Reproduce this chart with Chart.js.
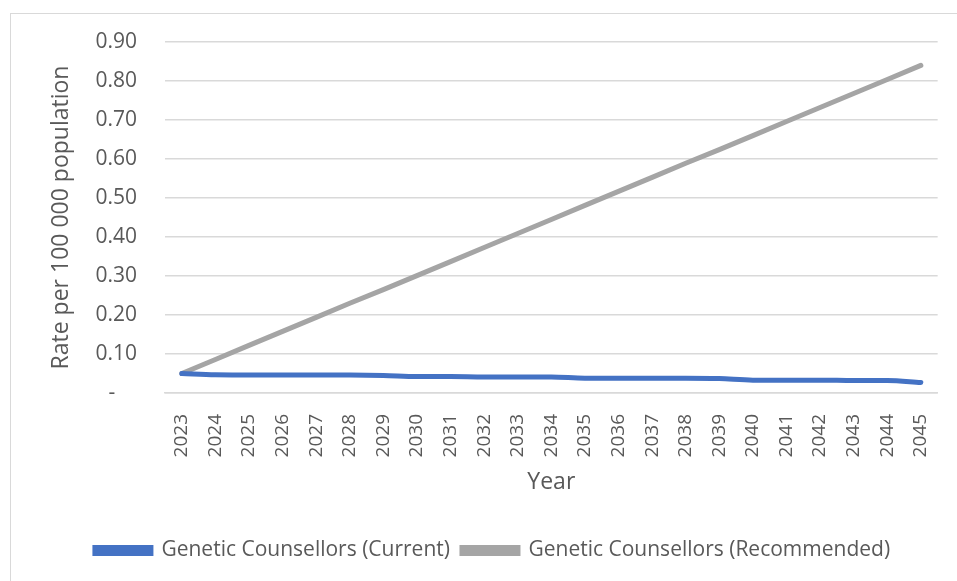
<!DOCTYPE html>
<html lang="en">
<head>
    <meta charset="UTF-8">
    <title>Genetic Counsellors rate</title>
    <script src="https://cdn.jsdelivr.net/npm/chart.js"></script>
    <style>
        body { margin: 0; background: #fff; }
        #wrap { position: relative; width: 957px; height: 581px; overflow: hidden; }
        #frame { position: absolute; left: 10px; top: 13px; width: 960px; height: 600px; border: 1px solid #d9d9d9; box-sizing: border-box; }
        canvas { position: absolute; left: 0; top: 0; }
    </style>
</head>
<body>
<div id="wrap">
    <div id="frame"></div>
    <canvas id="chart" width="957" height="581"></canvas>
</div>
<script>
    // data
    const years = ['2023', '2024', '2025', '2026', '2027', '2028', '2029', '2030', '2031', '2032', '2033', '2034',
                   '2035', '2036', '2037', '2038', '2039', '2040', '2041', '2042', '2043', '2044', '2045'];
    const currentRate = [0.050, 0.047, 0.046, 0.046, 0.046, 0.046, 0.045, 0.042, 0.042, 0.041, 0.041, 0.041,
                         0.038, 0.038, 0.038, 0.038, 0.037, 0.033, 0.033, 0.033, 0.032, 0.032, 0.027];
    const recommendedRate = [0.050, 0.086, 0.122, 0.158, 0.194, 0.230, 0.265, 0.301, 0.337, 0.373, 0.409, 0.445,
                             0.481, 0.517, 0.553, 0.589, 0.624, 0.660, 0.696, 0.732, 0.768, 0.804, 0.840];

    const font = 'Open Sans';
    const grey = '#595959';

    new Chart(document.getElementById('chart'), {
        type: 'line',
        data: {
            labels: years,
            datasets: [{
                label: 'Genetic Counsellors (Current)',
                data: currentRate,
                borderColor: '#4472C4',
                backgroundColor: '#4472C4',
                borderWidth: 5,
                borderCapStyle: 'round',
                pointRadius: 0,
                cubicInterpolationMode: 'monotone'
            }, {
                label: 'Genetic Counsellors (Recommended)',
                data: recommendedRate,
                borderColor: '#A5A5A5',
                backgroundColor: '#A5A5A5',
                borderWidth: 5,
                borderCapStyle: 'round',
                pointRadius: 0
            }]
        },
        options: {
            responsive: false,
            animation: false,
            layout: { padding: { left: 44, right: 16, top: 42, bottom: 10 } },
            plugins: {
                tooltip: { enabled: false },
                legend: {
                    position: 'bottom',
                    labels: {
                        font: { family: font, size: 21 },
                        color: grey,
                        boxWidth: 56,
                        boxHeight: 6,
                        padding: 12
                    }
                }
            },
            scales: {
                x: {
                    offset: true,
                    grid: { display: false },
                    border: { color: '#d9d9d9', width: 1.5 },
                    ticks: {
                        font: { family: font, size: 19 },
                        color: grey,
                        minRotation: 90,
                        maxRotation: 90,
                        padding: 13
                    },
                    title: {
                        display: true,
                        text: 'Year',
                        font: { family: font, size: 23 },
                        color: grey,
                        padding: { top: 4, bottom: 32 }
                    },
                    afterFit: s => { s.height = 135; }
                },
                y: {
                    min: 0,
                    max: 0.9,
                    grid: { color: '#d9d9d9', lineWidth: 1.5, drawTicks: false },
                    border: { display: false },
                    ticks: {
                        stepSize: 0.1,
                        font: { family: font, size: 21 },
                        color: grey,
                        padding: 28,
                        callback: v => v === 0 ? '-    ' : v.toFixed(2)
                    },
                    title: {
                        display: true,
                        text: 'Rate per 100 000 population',
                        font: { family: font, size: 23 },
                        color: grey,
                        padding: { top: 4, bottom: 0 }
                    },
                    afterFit: s => { s.width = 121; }
                }
            }
        }
    });
</script>
</body>
</html>
